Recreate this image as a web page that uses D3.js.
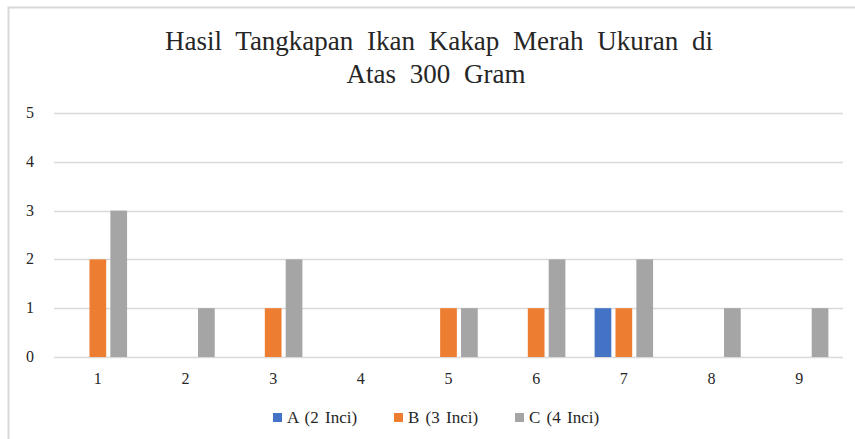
<!DOCTYPE html>
<html>
<head>
<meta charset="utf-8">
<script src="https://cdn.jsdelivr.net/npm/d3@7"></script>
</head>
<body style="margin:0">
<div class="chart"></div>
<script>
// Hasil tangkapan ikan kakap merah, clustered bars
var categories = ["1", "2", "3", "4", "5", "6", "7", "8", "9"];
var seriesNames = ["A (2 Inci)", "B (3 Inci)", "C (4 Inci)"];
var seriesA = [0, 0, 0, 0, 0, 0, 1, 0, 0];
var seriesB = [2, 0, 1, 0, 1, 1, 1, 0, 0];
var seriesC = [3, 1, 2, 0, 1, 2, 2, 1, 1];
var yTicks = [0, 1, 2, 3, 4, 5];
var colors = ["#4472c4", "#ed7d31", "#a5a5a5"];

var fontSerif = "Liberation Serif";
var w = 855, h = 439;
var margin = {top: 113, right: 12, bottom: 82, left: 54};

var svg = d3.select(".chart").append("svg")
  .attr("width", w)
  .attr("height", h);

// chart frame (only left and top edges fall inside the picture)
svg.append("path")
  .attr("d", "M8.5," + h + "V7.5H" + w)
  .attr("fill", "none")
  .attr("stroke", "#d9d9d9")
  .attr("stroke-width", 2);

var titleLines = ["Hasil Tangkapan Ikan Kakap Merah Ukuran di", "Atas 300 Gram"];
svg.append("g")
  .selectAll("text")
  .data(titleLines)
  .enter().append("text")
  .attr("x", function(d, i) { return i ? 436 : 439; })
  .attr("y", function(d, i) { return 50 + i * 33; })
  .attr("text-anchor", "middle")
  .style("font-family", fontSerif, "important")
  .style("font-size", "27px")
  .style("word-spacing", "7px")
  .style("fill", "#262626")
  .text(function(d) { return d; });

var x0 = d3.scaleBand()
  .domain(categories)
  .range([margin.left, w - margin.right])
  .paddingInner(0.333)
  .paddingOuter(0.1665);

var x1 = d3.scaleBand()
  .domain(d3.range(seriesNames.length))
  .range([0, x0.bandwidth()])
  .paddingInner(0.2);

var y = d3.scaleLinear()
  .domain([0, 5])
  .range([h - margin.bottom, margin.top]);

// gridlines
svg.append("g")
  .selectAll("line")
  .data(yTicks)
  .enter().append("line")
  .attr("x1", margin.left)
  .attr("x2", w - margin.right)
  .attr("y1", function(d) { return Math.round(y(d)) + 0.5; })
  .attr("y2", function(d) { return Math.round(y(d)) + 0.5; })
  .attr("stroke", "#d9d9d9")
  .attr("stroke-width", 1.5);

// y labels
svg.append("g")
  .selectAll("text")
  .data(yTicks)
  .enter().append("text")
  .attr("x", 30)
  .attr("y", function(d) { return y(d) + 5; })
  .attr("text-anchor", "middle")
  .style("font-family", fontSerif, "important")
  .style("font-size", "16px")
  .style("fill", "#262626")
  .text(function(d) { return d; });

// x labels
svg.append("g")
  .selectAll("text")
  .data(categories)
  .enter().append("text")
  .attr("x", function(d) { return x0(d) + x0.bandwidth() / 2; })
  .attr("y", 384)
  .attr("text-anchor", "middle")
  .style("font-family", fontSerif, "important")
  .style("font-size", "16px")
  .style("fill", "#262626")
  .text(function(d) { return d; });

var series = [seriesA, seriesB, seriesC];

var groups = svg.append("g")
  .selectAll("g")
  .data(categories)
  .enter().append("g")
  .attr("transform", function(d) { return "translate(" + x0(d) + ",0)"; });

groups.selectAll("rect")
  .data(function(d, i) {
    return series.map(function(s, k) { return {k: k, v: s[i]}; });
  })
  .enter().append("rect")
  .filter(function(d) { return d.v > 0; })
  .attr("x", function(d) { return x1(d.k); })
  .attr("width", x1.bandwidth())
  .attr("y", function(d) { return y(d.v); })
  .attr("height", function(d) { return y(0) - y(d.v); })
  .attr("fill", function(d) { return colors[d.k]; });

// legend
var legendX = [273, 394, 515];
var legend = svg.append("g")
  .selectAll("g")
  .data(seriesNames)
  .enter().append("g")
  .attr("transform", function(d, i) { return "translate(" + legendX[i] + ",413)"; });

legend.append("rect")
  .attr("width", 9)
  .attr("height", 9)
  .attr("fill", function(d, i) { return colors[i]; });

legend.append("text")
  .attr("x", 14)
  .attr("y", 10)
  .style("font-family", fontSerif, "important")
  .style("font-size", "17px")
  .style("word-spacing", "2px")
  .style("fill", "#262626")
  .text(function(d) { return d; });
</script>
</body>
</html>
